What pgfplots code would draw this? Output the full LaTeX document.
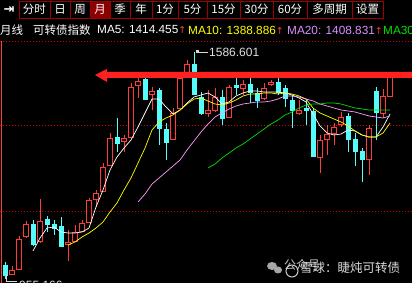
\documentclass[border=0pt]{standalone}
\usepackage{pgfplots}
\pgfplotsset{compat=1.18}
\usepackage{pgfplotstable}
\usepackage{fontspec}
\setmainfont{Liberation Sans}
\newfontfamily\cjk{Noto Sans CJK SC}
\newfontfamily\sym{DejaVu Sans}
\definecolor{upred}{HTML}{FF3C3C}
\definecolor{dncyan}{HTML}{54FCFC}
\definecolor{boxred}{HTML}{A00000}
\definecolor{selred}{HTML}{8C0000}
\definecolor{arrowred}{HTML}{FF2020}
\definecolor{ma5}{HTML}{FFFFFF}
\definecolor{ma10}{HTML}{FFFF00}
\definecolor{ma20}{HTML}{FF9CFF}
\definecolor{ma20t}{HTML}{D890FF}
\definecolor{ma30}{HTML}{00E000}
\definecolor{griddot}{HTML}{D00000}

% monthly candles: i open high low close
\pgfplotstableread{
i o h l c
0 994.50 1002.84 955.166 966.70
1 969.48 991.72 966.70 980.60
2 983.38 1075.12 980.60 1066.78
3 1075.12 1116.82 1069.56 1108.48
4 1108.48 1119.60 1047.32 1052.88
5 1061.22 1177.98 1055.66 1116.82
6 1122.38 1130.72 1086.24 1108.48
7 1108.48 1119.60 1077.90 1097.36
8 1102.92 1127.94 1044.54 1047.32
9 1052.88 1091.80 1005.62 1058.44
10 1061.22 1105.70 1058.44 1086.24
11 1089.02 1119.60 1086.24 1111.26
12 1114.04 1180.76 1111.26 1175.20
13 1177.98 1203.00 1155.74 1194.66
14 1200.22 1278.06 1197.44 1266.94
15 1272.50 1361.46 1269.72 1347.56
16 1350.34 1403.16 1308.64 1333.66
17 1339.22 1355.90 1308.64 1347.56
18 1350.34 1500.46 1347.56 1489.34
19 1494.90 1517.14 1458.76 1506.02
20 1511.58 1525.48 1453.20 1455.98
21 1469.88 1489.34 1425.40 1478.22
22 1481.00 1486.56 1328.10 1375.36
23 1372.58 1389.26 1286.40 1336.44
24 1344.78 1430.96 1342.00 1417.06
25 1430.96 1531.04 1425.40 1514.36
26 1525.48 1564.40 1522.70 1553.28
27 1553.28 1586.601 1467.10 1469.88
28 1461.54 1475.44 1411.50 1417.06
29 1417.06 1481.00 1405.94 1425.40
30 1425.40 1486.56 1419.84 1461.54
31 1461.54 1481.00 1383.70 1403.16
32 1405.94 1494.90 1403.16 1489.34
33 1494.90 1514.36 1467.10 1489.34
34 1486.56 1508.80 1467.10 1497.68
35 1497.68 1514.36 1444.86 1475.44
36 1472.66 1486.56 1430.96 1453.20
37 1458.76 1500.46 1453.20 1486.56
38 1497.68 1508.80 1492.12 1503.24
39 1503.24 1514.36 1467.10 1475.44
40 1486.56 1494.90 1433.74 1458.76
41 1453.20 1467.10 1375.36 1425.40
42 1417.06 1453.20 1411.50 1425.40
43 1430.96 1453.20 1383.70 1425.40
44 1422.62 1430.96 1294.74 1297.52
45 1294.74 1355.90 1250.26 1342.00
46 1344.78 1383.70 1300.30 1358.68
47 1361.46 1389.26 1328.10 1378.14
48 1386.48 1419.84 1378.14 1405.94
49 1408.72 1417.06 1308.64 1344.78
50 1344.78 1361.46 1269.72 1311.42
51 1311.42 1319.76 1225.24 1289.18
52 1289.18 1383.70 1244.70 1375.36
53 1478.22 1489.34 1342.00 1419.84
54 1417.06 1483.78 1403.16 1464.32
55 1464.32 1517.14 1464.32 1517.14
}\cdata

\begin{document}
\begin{tikzpicture}[x=1pt,y=1pt]
\useasboundingbox (0,0) rectangle (412,283);
\clip (0,0) rectangle (412,283);
\fill[black] (0,0) rectangle (412,283);
% dotted separator / grid lines
\draw[griddot, line width=0.8pt, dash pattern=on 1pt off 2pt] (0,241.5) -- (412,241.5);
\draw[griddot, line width=0.8pt, dash pattern=on 1pt off 2pt] (0,158) -- (412,158);
\draw[griddot, line width=0.8pt, dash pattern=on 1pt off 2pt] (0,72) -- (412,72);
\draw[upred, line width=1pt] (1,0) -- (1,242);
\begin{axis}[at={(0,0)}, anchor=south west, scale only axis,
  width=412pt, height=240pt, xmin=-0.714, xmax=58.14, ymin=944.46, ymax=1611.66,
  hide axis, clip=true]
\pgfplotstablegetrowsof{\cdata}
\pgfmathtruncatemacro\N{\pgfplotsretval-1}
\foreach \k in {0,...,\N}{
  \pgfplotstablegetelem{\k}{i}\of\cdata \let\X\pgfplotsretval
  \pgfplotstablegetelem{\k}{o}\of\cdata \let\O\pgfplotsretval
  \pgfplotstablegetelem{\k}{h}\of\cdata \let\H\pgfplotsretval
  \pgfplotstablegetelem{\k}{l}\of\cdata \let\L\pgfplotsretval
  \pgfplotstablegetelem{\k}{c}\of\cdata \let\C\pgfplotsretval
  \pgfmathsetmacro\xa{\X-0.30}
  \pgfmathsetmacro\xb{\X+0.30}
  \ifdim\C pt>\O pt
    \edef\tmp{\noexpand\addplot[draw=upred, line width=0.9pt] coordinates {(\X,\L) (\X,\H)};
      \noexpand\addplot[draw=upred, fill=black, line width=0.9pt] coordinates {(\xa,\O) (\xb,\O) (\xb,\C) (\xa,\C)} --cycle;}
  \else
    \edef\tmp{\noexpand\addplot[draw=dncyan, line width=0.9pt] coordinates {(\X,\L) (\X,\H)};
      \noexpand\addplot[draw=dncyan, fill=dncyan, line width=0.5pt] coordinates {(\xa,\O) (\xb,\O) (\xb,\C) (\xa,\C)} --cycle;}
  \fi
  \tmp
}
% MA5
\addplot[ma5, line width=0.7pt] coordinates {
(4,1033.42)(5,1069.56)(6,1097.36)(7,1100.14)(8,1086.24)(9,1083.46)(10,1083.46)
(11,1086.24)(12,1097.36)(13,1155.74)(14,1203.00)(15,1258.60)(16,1294.74)
(17,1319.76)(18,1342.00)(19,1378.14)(20,1417.06)(21,1455.98)(22,1455.98)
(23,1433.74)(24,1414.28)(25,1425.40)(26,1444.86)(27,1461.54)(28,1467.10)
(29,1472.66)(30,1461.54)(31,1442.08)(32,1447.64)(33,1464.32)(34,1472.66)
(35,1478.22)(36,1478.22)(37,1475.44)(38,1475.44)(39,1475.44)(40,1472.66)
(41,1467.10)(42,1458.76)(43,1447.64)(44,1414.28)(45,1380.92)(46,1361.46)
(47,1355.90)(48,1358.68)(49,1369.80)(50,1367.02)(51,1355.90)(52,1350.34)
(53,1350.34)(54,1378.14)(55,1414.455)};
% MA10
\addplot[ma10, line width=0.7pt] coordinates {
(9,1050.10)(10,1058.44)(11,1072.34)(12,1083.46)(13,1097.36)(14,1114.04)
(15,1141.84)(16,1166.86)(17,1203.00)(18,1236.36)(19,1278.06)(20,1319.76)
(21,1369.80)(22,1392.04)(23,1403.16)(24,1411.50)(25,1425.40)(26,1442.08)
(27,1455.98)(28,1458.76)(29,1450.42)(30,1442.08)(31,1439.30)(32,1444.86)
(33,1453.20)(34,1464.32)(35,1469.88)(36,1469.88)(37,1472.66)(38,1472.66)
(39,1469.88)(40,1472.66)(41,1469.88)(42,1464.32)(43,1455.98)(44,1430.96)
(45,1417.06)(46,1408.72)(47,1400.38)(48,1392.04)(49,1380.92)(50,1367.02)
(51,1355.90)(52,1350.34)(53,1350.34)(54,1361.46)(55,1388.886)};
% MA20
\addplot[ma20, line width=0.7pt] coordinates {
(19,1169.64)(20,1191.88)(21,1219.68)(22,1236.36)(23,1253.04)(24,1269.72)
(25,1286.40)(26,1314.20)(27,1339.22)(28,1364.24)(29,1386.48)(30,1405.94)
(31,1417.06)(32,1428.18)(33,1436.52)(34,1442.08)(35,1444.86)(36,1447.64)
(37,1447.64)(38,1450.42)(39,1455.98)(40,1464.32)(41,1464.32)(42,1461.54)
(43,1455.98)(44,1450.42)(45,1442.08)(46,1436.52)(47,1430.96)(48,1425.40)
(49,1422.62)(50,1419.84)(51,1414.28)(52,1408.72)(53,1405.94)(54,1403.16)
(55,1408.831)};
% MA30
\addplot[ma30, line width=0.7pt] coordinates {
(29,1264.16)(30,1275.28)(31,1291.96)(32,1305.86)(33,1319.76)(34,1330.88)
(35,1344.78)(36,1358.68)(37,1372.58)(38,1386.48)(39,1397.60)(40,1411.50)
(41,1419.84)(42,1430.96)(43,1439.30)(44,1442.08)(45,1442.08)(46,1444.86)
(47,1444.86)(48,1442.08)(49,1436.52)(50,1430.96)(51,1428.18)(52,1425.40)
(53,1425.40)(54,1425.40)(55,1425.40)};
\end{axis}
% big red arrow
\fill[arrowred] (412,211) -- (107,211) -- (107,214) -- (95,208) -- (107,201) -- (107,205) -- (412,205) -- cycle;
% high / low labels
\draw[white!85!black, line width=0.8pt] (197,231) -- (208,231);
\fill[white!85!black] (196,229.5) rectangle (199,232.5);
\node[anchor=west, inner sep=0pt, text=white!88!black, font=\fontsize{12}{12}\selectfont] at (209,231) {1586.601};
\draw[white!85!black, line width=0.8pt] (6,8) -- (6,2) -- (17,2);
\node[anchor=west, inner sep=0pt, text=white!88!black, font=\fontsize{12}{12}\selectfont] at (19,-2) {955.166};
% toolbar
\fill[selred] (90,265) rectangle (110,282);
\foreach \a/\b in {19/50,50/70,70/90,90/110,110/130,130/152,152/178,178/207,207/240,240/273,273/307,307/352,352/383}{
  \draw[boxred, line width=0.9pt] (\a,265) rectangle (\b,282);
}
\node[text=white, font=\sym\bfseries\fontsize{13}{13}\selectfont] at (9,273.5) {⇥};
\foreach \t/\x in {分时/34.5,日/60,周/80,月/100,季/120,年/141,1分/165,5分/192.5,15分/223.5,30分/256.5,60分/290,多周期/329.5,设置/367.5}{
  \node[text=white, inner sep=0pt, font=\cjk\fontsize{11.5}{12}\selectfont] at (\x,273.5) {\t};
}
% MA header
\node[anchor=west, inner sep=0pt, text=white, font=\cjk\fontsize{11.5}{12}\selectfont] at (0,253) {月线};
\node[anchor=west, inner sep=0pt, text=white, font=\cjk\fontsize{11.5}{12}\selectfont] at (33,253) {可转债指数};
\node[anchor=west, inner sep=0pt, text=white, font=\fontsize{11.8}{12}\selectfont] at (97,253) {MA5: 1414.455{\sym\fontsize{9.5}{10}\selectfont\color{upred}↑}};
\node[anchor=west, inner sep=0pt, text=ma10, font=\fontsize{11.8}{12}\selectfont] at (188,253) {MA10: 1388.886{\sym\fontsize{9.5}{10}\selectfont\color{upred}↑}};
\node[anchor=west, inner sep=0pt, text=ma20t, font=\fontsize{11.8}{12}\selectfont] at (287,253) {MA20: 1408.831{\sym\fontsize{9.5}{10}\selectfont\color{upred}↑}};
\node[anchor=west, inner sep=0pt, text=ma30, font=\fontsize{11.8}{12}\selectfont] at (383,253) {MA30};
% watermark
\fill[gray!70] (272,17) ellipse (5pt and 4pt);
\fill[gray!70] (278,13) ellipse (4pt and 3.5pt);
\node[anchor=west, inner sep=0pt, text=gray!45, font=\cjk\fontsize{12}{13}\selectfont] at (284,18) {公众号};
\draw[white!80!black, line width=1pt] (292,12) circle (6pt);
\node[anchor=west, inner sep=0pt, text=white!85!black, font=\cjk\fontsize{12.5}{13}\selectfont] at (300,15) {雪球：睫炖可转债};
\end{tikzpicture}
\end{document}
